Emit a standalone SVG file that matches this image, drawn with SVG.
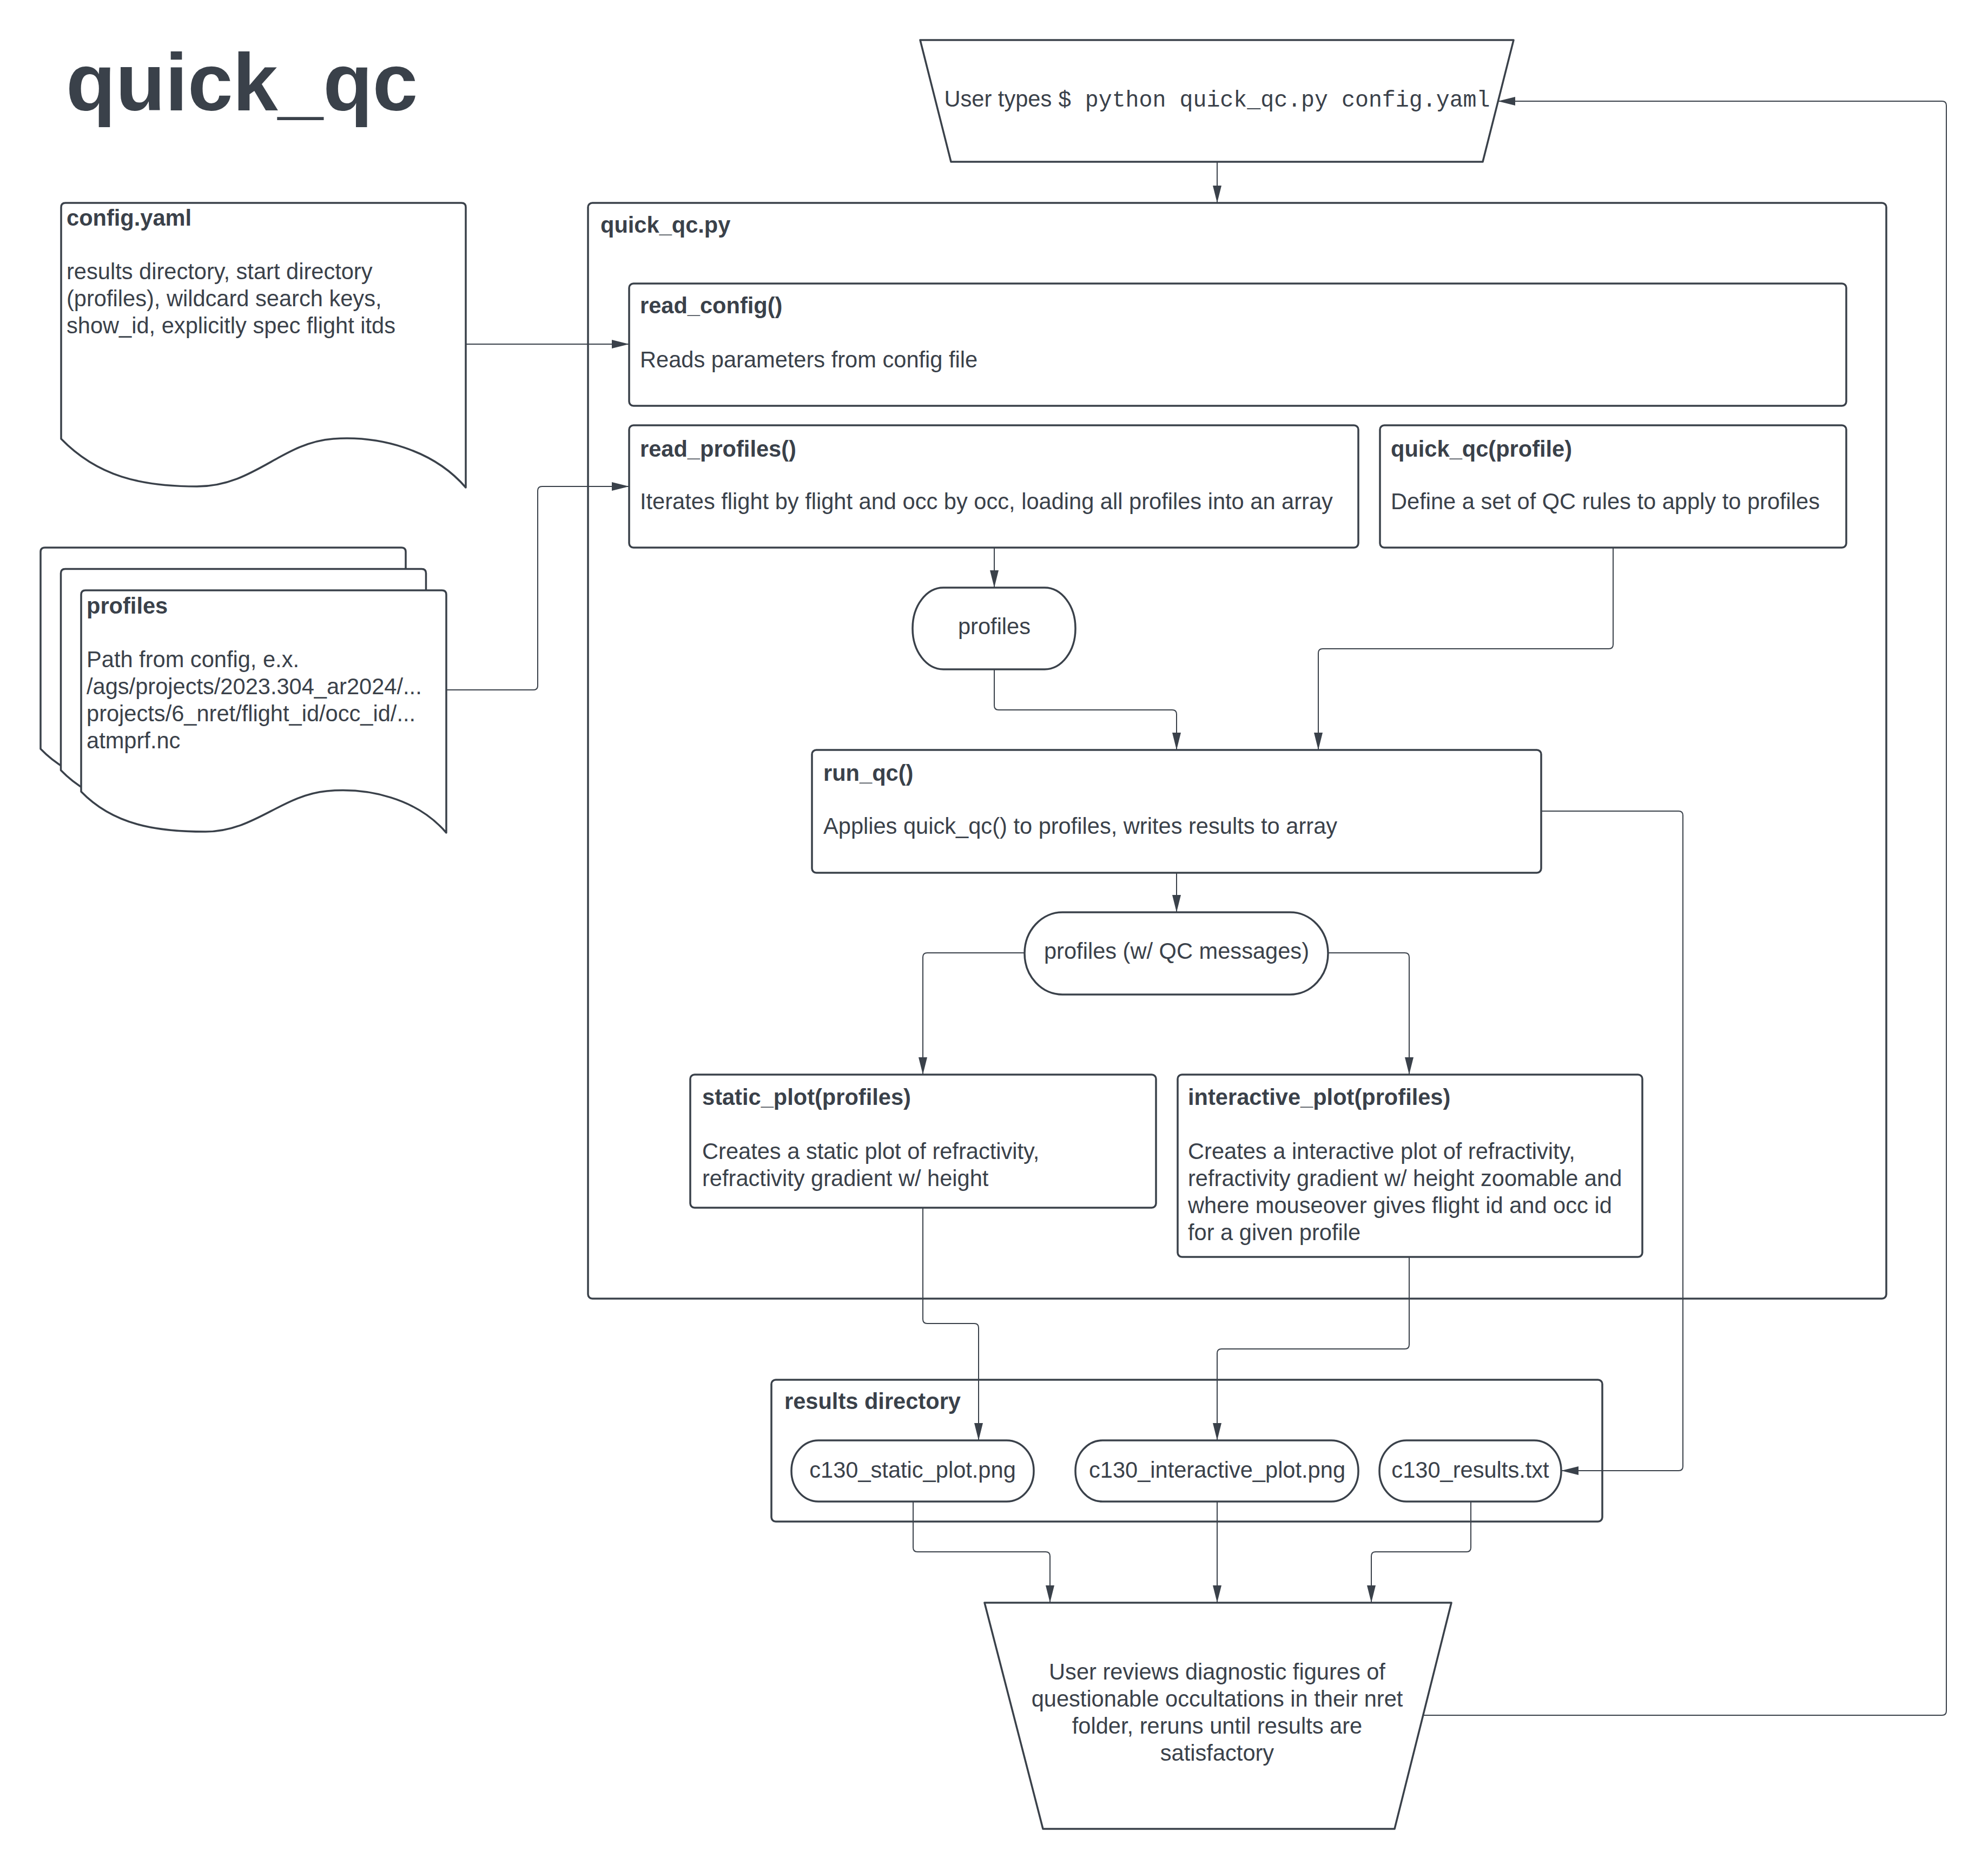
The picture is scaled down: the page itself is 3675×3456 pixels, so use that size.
<svg xmlns="http://www.w3.org/2000/svg" width="3675" height="3456" viewBox="0 0 3675 3456">
<style>
.n{fill:#ffffff;stroke:#3a414a;stroke-width:3.5;stroke-linejoin:round}
.t{font-family:"Liberation Sans",Arial,sans-serif;font-size:41.6px;fill:#3a414a}
.b{font-weight:bold}
.m{font-family:"Liberation Mono","Courier New",monospace}
.c{fill:none;stroke:#3a414a;stroke-width:2;stroke-linejoin:round}
</style>
<defs>
<marker id="ah" markerUnits="userSpaceOnUse" markerWidth="34" markerHeight="18" refX="32" refY="8" orient="auto">
<path d="M0,0 L32,8 L0,16 Z" fill="#3a414a"/>
</marker>
</defs>
<rect width="3675" height="3456" fill="#ffffff"/>
<text x="122" y="204" class="t b" style="font-size:150px">quick_qc</text>

<g id="user-types">
<path class="n" d="M1701,74 L2798,74 L2741,299 L1758,299 Z"/>
<text x="2250" y="197" class="t" text-anchor="middle">User types <tspan class="m">$ python quick_qc.py config.yaml</tspan></text>
</g>

<g id="config-yaml">
<path class="n" d="M113,383 Q113,375 121,375 L853,375 Q861,375 861,383 L861,901 C800,830 700,805 616,811 C520,818 470,899 364,899 C260,899 180,880 113,811 Z"/>
<text x="123" y="417" class="t b">config.yaml</text>
<text x="123" y="516" class="t">results directory, start directory</text>
<text x="123" y="566" class="t">(profiles), wildcard search keys,</text>
<text x="123" y="616" class="t">show_id, explicitly spec flight itds</text>
</g>

<g id="profiles-doc">
<path class="n" transform="translate(-75,-79)" d="M150,1099 Q150,1091 158,1091 L817,1091 Q825,1091 825,1099 L825,1539 C770,1475 680,1455 604,1462 C520,1470 470,1537 380,1537 C290,1537 210,1525 150,1463 Z"/>
<path class="n" transform="translate(-37.5,-39.5)" d="M150,1099 Q150,1091 158,1091 L817,1091 Q825,1091 825,1099 L825,1539 C770,1475 680,1455 604,1462 C520,1470 470,1537 380,1537 C290,1537 210,1525 150,1463 Z"/>
<path class="n" d="M150,1099 Q150,1091 158,1091 L817,1091 Q825,1091 825,1099 L825,1539 C770,1475 680,1455 604,1462 C520,1470 470,1537 380,1537 C290,1537 210,1525 150,1463 Z"/>
<text x="160" y="1134" class="t b">profiles</text>
<text x="160" y="1233" class="t">Path from config, e.x.</text>
<text x="160" y="1283" class="t">/ags/projects/2023.304_ar2024/...</text>
<text x="160" y="1333" class="t">projects/6_nret/flight_id/occ_id/...</text>
<text x="160" y="1383" class="t">atmprf.nc</text>
</g>

<g id="quick-qc-py">
<rect class="n" x="1087" y="375" width="2400" height="2025" rx="8"/>
<text x="1110" y="430" class="t b">quick_qc.py</text>
</g>

<g id="read-config">
<rect class="n" x="1163" y="524" width="2250" height="226" rx="8"/>
<text x="1183" y="579" class="t b">read_config()</text>
<text x="1183" y="679" class="t">Reads parameters from config file</text>
</g>

<g id="read-profiles">
<rect class="n" x="1163" y="786" width="1348" height="226" rx="8"/>
<text x="1183" y="844" class="t b">read_profiles()</text>
<text x="1183" y="941" class="t">Iterates flight by flight and occ by occ, loading all profiles into an array</text>
</g>

<g id="quick-qc-profile">
<rect class="n" x="2551" y="786" width="862" height="226" rx="8"/>
<text x="2571" y="844" class="t b">quick_qc(profile)</text>
<text x="2571" y="941" class="t">Define a set of QC rules to apply to profiles</text>
</g>

<g id="profiles-data">
<rect class="n" x="1687" y="1086" width="301" height="151" rx="57" ry="75"/>
<text x="1838" y="1172" class="t" text-anchor="middle">profiles</text>
</g>

<g id="run-qc">
<rect class="n" x="1501" y="1386" width="1348" height="227" rx="8"/>
<text x="1522" y="1443" class="t b">run_qc()</text>
<text x="1522" y="1541" class="t">Applies quick_qc() to profiles, writes results to array</text>
</g>

<g id="profiles-qc">
<rect class="n" x="1894" y="1686" width="561" height="152" rx="70" ry="76"/>
<text x="2175" y="1772" class="t" text-anchor="middle">profiles (w/ QC messages)</text>
</g>

<g id="static-plot">
<rect class="n" x="1276" y="1986" width="861" height="246" rx="8"/>
<text x="1298" y="2042" class="t b">static_plot(profiles)</text>
<text x="1298" y="2142" class="t">Creates a static plot of refractivity,</text>
<text x="1298" y="2192" class="t">refractivity gradient w/ height</text>
</g>

<g id="interactive-plot">
<rect class="n" x="2177" y="1986" width="859" height="337" rx="8"/>
<text x="2196" y="2042" class="t b">interactive_plot(profiles)</text>
<text x="2196" y="2142" class="t">Creates a interactive plot of refractivity,</text>
<text x="2196" y="2192" class="t">refractivity gradient w/ height zoomable and</text>
<text x="2196" y="2242" class="t">where mouseover gives flight id and occ id</text>
<text x="2196" y="2292" class="t">for a given profile</text>
</g>

<g id="results-directory">
<rect class="n" x="1426" y="2550" width="1536" height="262" rx="8"/>
<text x="1450" y="2604" class="t b">results directory</text>
</g>

<g id="c130-static">
<rect class="n" x="1463" y="2662" width="448" height="113" rx="50" ry="56"/>
<text x="1687" y="2731" class="t" text-anchor="middle">c130_static_plot.png</text>
</g>

<g id="c130-interactive">
<rect class="n" x="1988" y="2662" width="523" height="113" rx="50" ry="56"/>
<text x="2250" y="2731" class="t" text-anchor="middle">c130_interactive_plot.png</text>
</g>

<g id="c130-results">
<rect class="n" x="2550" y="2662" width="336" height="113" rx="50" ry="56"/>
<text x="2718" y="2731" class="t" text-anchor="middle">c130_results.txt</text>
</g>

<g id="user-reviews">
<path class="n" d="M1820,2962 L2683,2962 L2578,3380 L1928,3380 Z"/>
<text x="2250" y="3104" class="t" text-anchor="middle">User reviews diagnostic figures of</text>
<text x="2250" y="3154" class="t" text-anchor="middle">questionable occultations in their nret</text>
<text x="2250" y="3204" class="t" text-anchor="middle">folder, reruns until results are</text>
<text x="2250" y="3254" class="t" text-anchor="middle">satisfactory</text>
</g>

<g id="connectors">
<path class="c" marker-end="url(#ah)" d="M2250,299 L2250,375"/>
<path class="c" marker-end="url(#ah)" d="M861,636 L1163,636"/>
<path class="c" marker-end="url(#ah)" d="M825,1275 L986,1275 Q994,1275 994,1267 L994,907 Q994,899 1002,899 L1163,899"/>
<path class="c" marker-end="url(#ah)" d="M1838,1012 L1838,1086"/>
<path class="c" marker-end="url(#ah)" d="M1838,1237 L1838,1304 Q1838,1312 1846,1312 L2167,1312 Q2175,1312 2175,1320 L2175,1386"/>
<path class="c" marker-end="url(#ah)" d="M2982,1012 L2982,1191 Q2982,1199 2974,1199 L2445,1199 Q2437,1199 2437,1207 L2437,1386"/>
<path class="c" marker-end="url(#ah)" d="M2849,1499 L3103,1499 Q3111,1499 3111,1507 L3111,2710 Q3111,2718 3103,2718 L2886,2718"/>
<path class="c" marker-end="url(#ah)" d="M2175,1613 L2175,1686"/>
<path class="c" marker-end="url(#ah)" d="M1894,1761 L1714,1761 Q1706,1761 1706,1769 L1706,1986"/>
<path class="c" marker-end="url(#ah)" d="M2455,1761 L2597,1761 Q2605,1761 2605,1769 L2605,1986"/>
<path class="c" marker-end="url(#ah)" d="M1706,2232 L1706,2438 Q1706,2446 1714,2446 L1801,2446 Q1809,2446 1809,2454 L1809,2662"/>
<path class="c" marker-end="url(#ah)" d="M2605,2323 L2605,2485 Q2605,2493 2597,2493 L2258,2493 Q2250,2493 2250,2501 L2250,2662"/>
<path class="c" marker-end="url(#ah)" d="M1688,2775 L1688,2860 Q1688,2868 1696,2868 L1933,2868 Q1941,2868 1941,2876 L1941,2962"/>
<path class="c" marker-end="url(#ah)" d="M2250,2775 L2250,2962"/>
<path class="c" marker-end="url(#ah)" d="M2719,2775 L2719,2860 Q2719,2868 2711,2868 L2543,2868 Q2535,2868 2535,2876 L2535,2962"/>
<path class="c" marker-end="url(#ah)" d="M2631,3170 L3590,3170 Q3598,3170 3598,3162 L3598,195 Q3598,187 3590,187 L2769,187"/>
</g>
</svg>
